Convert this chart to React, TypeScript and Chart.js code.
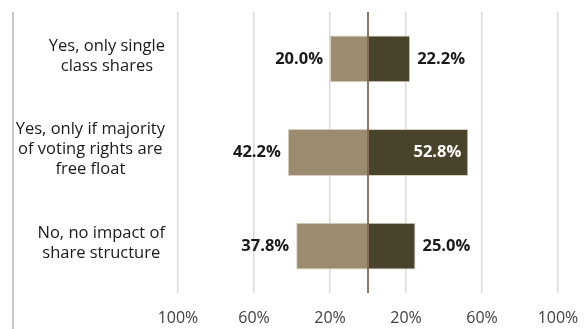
import React, { useEffect, useRef } from "react";
import { Chart, registerables } from "chart.js";

Chart.register(...registerables);

const categories: string[][] = [
  ["Yes, only single", "class shares"],
  ["Yes, only if majority", "of voting rights are", "free float"],
  ["No, no impact of", "share structure"],
];
const leftValues = [20.0, 42.2, 37.8];
const rightValues = [22.2, 52.8, 25.0];
const tickValues = [-100, -60, -20, 20, 60, 100];

const LEFT_COLOR = "#9b8b6f";
const RIGHT_COLOR = "#4a432b";
const FONT = "'Open Sans', sans-serif";

export default function App() {
  const ref = useRef<HTMLCanvasElement | null>(null);

  useEffect(() => {
    if (!ref.current) return;

    const overlay = {
      id: "overlay",
      afterDatasetsDraw(chart: any) {
        const ctx = chart.ctx;
        const xs = chart.scales.x;
        const ys = chart.scales.y;
        const area = chart.chartArea;
        // center line
        const cx = xs.getPixelForValue(0);
        ctx.save();
        ctx.strokeStyle = "#6b4a33";
        ctx.lineWidth = 1.5;
        ctx.beginPath();
        ctx.moveTo(cx, area.top);
        ctx.lineTo(cx, area.bottom);
        ctx.stroke();

        // data labels
        ctx.font = `bold 16.5px ${FONT}`;
        ctx.textBaseline = "middle";
        leftValues.forEach((v, i) => {
          const x = xs.getPixelForValue(-v);
          const y = ys.getPixelForValue(i);
          ctx.fillStyle = "#1a1a1a";
          ctx.textAlign = "right";
          ctx.fillText(v.toFixed(1) + "%", x - 7, y);
        });
        rightValues.forEach((v, i) => {
          const x = xs.getPixelForValue(v);
          const y = ys.getPixelForValue(i);
          if (v > 50) {
            ctx.fillStyle = "#ffffff";
            ctx.textAlign = "right";
            ctx.fillText(v.toFixed(1) + "%", x - 7, y);
          } else {
            ctx.fillStyle = "#1a1a1a";
            ctx.textAlign = "left";
            ctx.fillText(v.toFixed(1) + "%", x + 7, y);
          }
        });

        // category labels
        ctx.font = `16.5px ${FONT}`;
        ctx.fillStyle = "#1a1a1a";
        ctx.textAlign = "center";
        const rightEdge = 165;
        const lh = 20;
        categories.forEach((lines, i) => {
          const y = ys.getPixelForValue(i) - 3;
          const w = Math.max(...lines.map((l) => ctx.measureText(l).width));
          const bx = rightEdge - w / 2;
          const startY = y - ((lines.length - 1) * lh) / 2;
          lines.forEach((l, j) => ctx.fillText(l, bx, startY + j * lh));
        });

        // left frame line
        ctx.strokeStyle = "#c8c8c8";
        ctx.lineWidth = 2;
        ctx.beginPath();
        ctx.moveTo(13, area.top);
        ctx.lineTo(13, chart.height);
        ctx.stroke();
        ctx.restore();
      },
    };

    const chart = new Chart(ref.current, {
      type: "bar",
      data: {
        labels: categories.map((c) => c.join(" ")),
        datasets: [
          {
            label: "Left",
            data: leftValues.map((v) => -v),
            backgroundColor: LEFT_COLOR,
            borderColor: "#d6d1c4",
            borderWidth: 1,
            borderSkipped: false,
            barPercentage: 0.5,
            categoryPercentage: 1,
          },
          {
            label: "Right",
            data: rightValues,
            backgroundColor: RIGHT_COLOR,
            borderColor: "#d6d1c4",
            borderWidth: 1,
            borderSkipped: false,
            barPercentage: 0.5,
            categoryPercentage: 1,
          },
        ],
      },
      options: {
        indexAxis: "y",
        animation: false,
        responsive: false,
        maintainAspectRatio: false,
        layout: { padding: { left: 178, right: 27, top: 12, bottom: 0 } },
        plugins: { legend: { display: false }, tooltip: { enabled: false } },
        scales: {
          x: {
            stacked: true,
            min: -100,
            max: 100,
            afterBuildTicks: (axis: any) => {
              axis.ticks = tickValues.map((v) => ({ value: v }));
            },
            afterFit: (axis: any) => {
              axis.height = 36;
              axis.paddingLeft = 0;
              axis.paddingRight = 0;
            },
            ticks: {
              callback: (v: any) => Math.abs(Number(v)) + "%",
              color: "#404040",
              font: { family: FONT, size: 16 },
              padding: 16,
              maxRotation: 0,
              autoSkip: false,
            },
            grid: { color: "#d9d9d9", lineWidth: 1.5, drawTicks: false },
            border: { display: false },
          },
          y: {
            display: false,
            stacked: true,
          },
        },
      },
      plugins: [overlay],
    });
    return () => chart.destroy();
  }, []);

  return (
    <div style={{ position: "fixed", left: 0, top: 0, width: 585, height: 329, background: "#fff" }}>
      <canvas ref={ref} width={585} height={329} style={{ width: 585, height: 329 }} />
    </div>
  );
}
